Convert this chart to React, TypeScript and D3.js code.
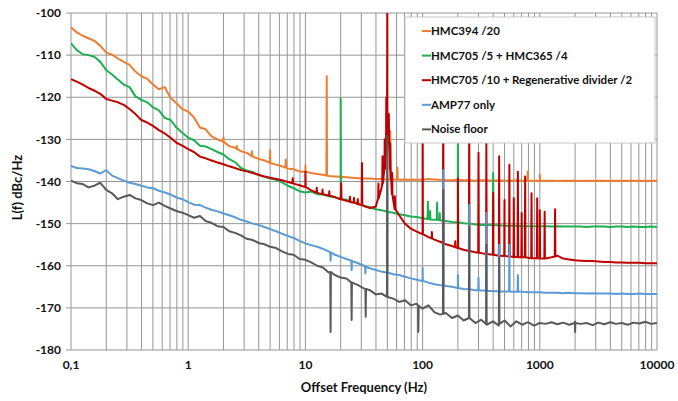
import React from 'react';
import * as d3 from 'd3';

// frequency grid: 20 points per decade, 0.1 Hz .. 10 kHz
const mantissas = [1, 1.12, 1.26, 1.41, 1.58, 1.78, 2, 2.24, 2.51, 2.82, 3.16, 3.55, 3.98, 4.47, 5.01, 5.62, 6.31, 7.08, 7.94, 8.91];
const decades = [0.1, 1, 10, 100, 1000];
const freqs = decades.flatMap(d => mantissas.map(m => +(d * m).toPrecision(3))).concat([10000]);

const xTicks = [0.1, 1, 10, 100, 1000, 10000];
const xTickLabels = ['0,1', '1', '10', '100', '1000', '10000'];
const yTicks = [-100, -110, -120, -130, -140, -150, -160, -170, -180];

// L(f) values in dBc/Hz on the grid above
const hmc394 = [
  -103.4, -104.6, -105.4, -106.0, -106.6, -107.8, -109.4, -109.9, -110.8, -111.6, -112.3, -113.9, -115.0, -115.6, -117.0, -118.1, -117.6, -120.2, -121.4, -122.8,
  -123.4, -124.8, -127.2, -127.6, -129.3, -130.0, -130.4, -131.6, -132.0, -132.8, -133.2, -134.1, -134.6, -135.0, -135.6, -136.0, -136.4, -136.9, -137.1, -137.6,
  -137.7, -138.0, -138.2, -138.4, -138.7, -138.8, -138.9, -139.0, -139.1, -139.2, -139.3, -139.3, -139.4, -139.4, -139.5, -139.5, -139.6, -139.5, -139.6, -139.6,
  -139.6, -139.4, -139.5, -139.6, -139.7, -139.7, -139.6, -139.7, -139.7, -139.8, -139.7, -139.7, -139.8, -139.7, -139.8, -139.8, -139.7, -139.8, -139.8, -139.8,
  -139.8, -139.8, -139.8, -139.9, -139.8, -139.8, -139.8, -139.9, -139.8, -139.8, -139.8, -139.8, -139.9, -139.8, -139.8, -139.8, -139.8, -139.8, -139.9, -139.8, -139.8,
];
const hmc705x5 = [
  -107.2, -108.8, -109.8, -110.0, -110.4, -111.6, -113.6, -114.6, -115.8, -117.0, -117.6, -119.8, -120.6, -121.2, -122.4, -123.1, -124.9, -125.4, -127.2, -128.4,
  -129.6, -130.2, -131.5, -131.7, -132.3, -133.0, -133.6, -134.7, -135.4, -136.8, -137.4, -137.8, -138.4, -138.9, -139.3, -139.6, -140.2, -141.0, -141.6, -142.3,
  -142.6, -142.4, -143.0, -143.1, -143.5, -143.7, -144.2, -144.3, -144.9, -145.3, -145.8, -146.1, -146.6, -146.8, -147.2, -147.4, -147.8, -148.0, -148.3, -148.4,
  -148.7, -148.9, -149.1, -149.2, -149.4, -149.6, -149.7, -149.9, -150.0, -150.2, -150.3, -150.3, -150.4, -150.4, -150.5, -150.5, -150.5, -150.6, -150.6, -150.6,
  -150.6, -150.6, -150.7, -150.6, -150.7, -150.7, -150.7, -150.7, -150.8, -150.7, -150.7, -150.7, -150.8, -150.7, -150.7, -150.8, -150.7, -150.8, -150.8, -150.7, -150.8,
];
const hmc705x10 = [
  -115.7, -116.3, -117.0, -117.8, -118.4, -119.2, -120.4, -120.8, -121.2, -121.8, -122.8, -124.0, -125.4, -126.0, -126.8, -127.8, -128.6, -129.6, -130.8, -131.5,
  -132.3, -133.0, -134.1, -134.5, -135.0, -135.5, -135.9, -136.4, -136.8, -137.3, -137.6, -138.0, -138.4, -138.8, -139.1, -139.4, -139.7, -140.1, -140.5, -140.9,
  -141.3, -142.1, -142.7, -143.0, -143.3, -143.7, -144.2, -144.6, -145.0, -145.4, -145.8, -146.3, -146.0, -141.5, -128.0, -144.5, -148.0, -150.0, -151.2, -151.9,
  -152.5, -153.2, -153.8, -154.3, -154.9, -155.3, -155.8, -156.2, -156.5, -156.8, -157.0, -157.2, -157.4, -157.6, -157.7, -157.8, -157.9, -158.0, -158.1, -158.2,
  -158.3, -158.3, -158.0, -157.6, -158.3, -158.5, -158.7, -158.8, -158.9, -158.9, -159.0, -159.1, -159.1, -159.2, -159.2, -159.3, -159.3, -159.3, -159.4, -159.4, -159.4,
];
const amp77 = [
  -136.3, -136.8, -136.9, -137.1, -137.5, -138.1, -137.3, -138.6, -139.2, -139.8, -140.3, -140.6, -141.0, -141.4, -141.6, -142.2, -142.6, -143.1, -143.8, -144.2,
  -144.9, -145.5, -145.6, -146.2, -146.7, -147.1, -147.6, -148.0, -148.5, -149.1, -149.5, -150.0, -150.3, -150.8, -151.3, -151.8, -152.4, -152.9, -153.4, -154.1,
  -154.7, -155.1, -155.5, -156.0, -156.6, -157.4, -157.9, -158.4, -158.9, -159.4, -160.0, -160.6, -161.0, -161.4, -161.6, -162.0, -162.2, -162.6, -163.0, -163.3,
  -163.6, -164.0, -164.4, -164.6, -164.8, -165.0, -165.3, -165.5, -165.6, -165.8, -165.9, -166.0, -166.0, -166.1, -166.1, -166.2, -166.2, -166.2, -166.3, -166.3,
  -166.3, -166.4, -166.4, -166.4, -166.5, -166.4, -166.5, -166.5, -166.6, -166.5, -166.6, -166.6, -166.6, -166.7, -166.6, -166.7, -166.7, -166.6, -166.7, -166.7, -166.7,
];
const noiseFloor = [
  -139.8, -140.4, -140.6, -141.4, -141.0, -140.3, -142.0, -142.8, -144.2, -143.6, -143.2, -144.0, -144.4, -145.2, -145.6, -145.0, -145.8, -146.4, -147.0, -147.4,
  -148.0, -148.6, -148.2, -149.4, -149.8, -150.6, -150.8, -151.8, -152.2, -152.8, -153.6, -153.9, -154.6, -154.9, -155.5, -155.8, -156.6, -157.2, -157.4, -158.4,
  -158.6, -159.2, -160.0, -160.4, -161.6, -162.2, -162.8, -163.0, -164.0, -164.6, -165.4, -165.8, -166.8, -166.6, -167.4, -167.8, -168.6, -168.2, -169.4, -169.0,
  -170.2, -169.4, -171.0, -171.6, -171.2, -172.4, -171.8, -173.0, -172.4, -173.6, -172.8, -174.0, -173.2, -174.2, -173.0, -174.4, -173.2, -174.0, -173.4, -174.2,
  -173.6, -173.8, -173.4, -173.9, -173.5, -174.0, -173.3, -173.8, -173.6, -174.1, -173.5, -173.9, -173.4, -173.8, -173.6, -174.0, -173.5, -173.7, -173.3, -173.8, -173.6,
];

// spurs: [frequency, floor level, peak level]
const hmc394Spurs = [[2.0, -130.6, -129.5], [2.6, -132.3, -131.6], [3.5, -134.0, -132.8], [5.0, -135.6, -132.6], [6.8, -136.7, -134.8], [10, -137.7, -136.2], [15.2, -138.6, -115.0], [53, -139.5, -128.0], [61, -139.5, -136.7], [790, -139.8, -137.6], [1000, -139.8, -138.4]];
const hmc705x5Spurs = [[20, -144.2, -120.3], [111, -148.9, -144.8], [116, -149.0, -147.0], [133, -149.1, -145.0], [140, -149.2, -147.5], [200, -149.7, -125.0], [400, -150.4, -138.0]];
const hmc705x10Spurs = [
  [7.8, -140.4, -139.2], [10, -141.3, -137.7], [12.5, -142.6, -141.5], [14, -143.0, -141.9], [16, -143.4, -142.3], [20.2, -144.2, -140.4],
  [24, -144.8, -143.6], [26, -145.0, -143.9], [28, -145.3, -144.2], [30.4, -145.6, -135.6], [42, -144.0, -140.5], [45.5, -140.5, -134.0],
  [47.5, -137.0, -130.0], [49, -132.0, -120.0], [50, -128.0, -95.0], [51.5, -131.0, -124.0], [53, -137.0, -131.0], [55, -143.0, -138.0],
  [58, -146.5, -143.5], [100, -152.5, -118.0], [120, -153.5, -152.0], [150, -154.6, -118.0], [190, -155.6, -154.2], [200, -155.8, -139.3],
  [250, -156.5, -120.0], [300, -156.9, -133.2], [350, -157.2, -130.9], [400, -157.4, -142.7], [450, -157.6, -134.0], [500, -157.7, -144.4],
  [550, -157.8, -136.0], [600, -157.9, -144.0], [650, -158.0, -137.7], [700, -158.0, -147.5], [750, -158.0, -138.8], [850, -158.2, -142.8],
  [950, -158.2, -144.0], [1000, -158.3, -146.8], [1100, -158.3, -147.2], [1350, -157.8, -146.6],
];
const amp77Spurs = [[16.4, -156.8, -158.8], [24.8, -158.8, -161.0], [32.5, -160.2, -161.8], [50, -161.6, -135.0], [100, -163.6, -160.5], [150, -164.7, -137.3], [200, -165.3, -162.2], [250, -165.6, -145.6], [300, -165.8, -162.8], [350, -165.9, -147.5], [450, -166.1, -155.0], [550, -166.1, -155.0], [650, -166.2, -162.2]];
const noiseFloorSpurs = [[16.4, -161.5, -175.7], [24.8, -164.0, -172.9], [32.7, -165.5, -172.1], [50, -167.4, -129.2], [92, -169.5, -175.7], [150, -171.4, -142.0], [250, -172.4, -150.7], [350, -173.8, -155.0], [450, -173.8, -158.0], [2000, -173.6, -175.7]];

const seriesNames = ['HMC394 /20', 'HMC705 /5 + HMC365 /4', 'HMC705 /10 + Regenerative divider /2', 'AMP77 only', 'Noise floor'];
const seriesColors = ['#ED7D31', '#1DB050', '#C00000', '#5B9BD5', '#595959'];
const seriesValues = [hmc394, hmc705x5, hmc705x10, amp77, noiseFloor];
const seriesSpurs = [hmc394Spurs, hmc705x5Spurs, hmc705x10Spurs, amp77Spurs, noiseFloorSpurs];

const W = 678;
const H = 401;
const margin = { left: 71, right: 21, top: 13, bottom: 51 };
const font = "Lato, 'Open Sans', sans-serif";

export default function App() {
  const x = d3.scaleLog().domain([0.1, 10000]).range([margin.left, W - margin.right]);
  const y = d3.scaleLinear().domain([-180, -100]).range([H - margin.bottom, margin.top]);

  const gridFreqs = decades.flatMap(d => d3.range(1, 10).map(m => d * m)).concat([10000]);

  const line = d3.line<[number, number]>().x(d => x(d[0])).y(d => y(d[1]));

  const buildPoints = (vals: number[], spurs: number[][]) => {
    const pts: [number, number][] = freqs.map((f, i) => [f, vals[i]]);
    spurs.forEach(([f, base, top]) => {
      pts.push([f * 0.994, base], [f, top], [f * 1.006, base]);
    });
    return pts.sort((a, b) => a[0] - b[0]);
  };

  const legendX = 405;
  const legendY = 17;

  return (
    <svg width={W} height={H} style={{ position: 'absolute', left: 0, top: 0, background: '#fff' }} fontFamily={font}>
      <defs>
        <clipPath id="plot-clip">
          <rect x={margin.left} y={margin.top} width={W - margin.left - margin.right} height={H - margin.top - margin.bottom} />
        </clipPath>
      </defs>

      {/* grid */}
      {gridFreqs.map(f => (
        <line key={'v' + f} x1={x(f)} x2={x(f)} y1={y(-100)} y2={y(-180)} stroke="#959595" strokeWidth={1} />
      ))}
      {yTicks.map(t => (
        <line key={'h' + t} x1={x(0.1) - 5} x2={x(10000)} y1={y(t)} y2={y(t)} stroke="#959595" strokeWidth={1} />
      ))}

      {/* series */}
      <g clipPath="url(#plot-clip)">
        {seriesValues.map((vals, i) => (
          <path key={seriesNames[i]} d={line(buildPoints(vals, seriesSpurs[i])) || ''} fill="none" stroke={seriesColors[i]} strokeWidth={2} strokeLinejoin="round" />
        ))}
      </g>

      {/* axes labels */}
      {yTicks.map(t => (
        <text key={'yl' + t} x={61} y={y(t)} dy="0.35em" textAnchor="end" fontSize={12} fontWeight="bold" fill="#111">{t}</text>
      ))}
      {xTicks.map((t, i) => (
        <text key={'xl' + t} x={x(t)} y={365} dy="0.35em" textAnchor="middle" fontSize={12} fontWeight="bold" fill="#111">{xTickLabels[i]}</text>
      ))}
      <text x={(x(0.1) + x(10000)) / 2} y={387} dy="0.35em" textAnchor="middle" fontSize={13} fontWeight="bold" fill="#111">Offset Frequency (Hz)</text>
      <text transform={`translate(17, ${(y(-100) + y(-180)) / 2 + 6}) rotate(-90)`} dy="0.35em" textAnchor="middle" fontSize={13} fontWeight="bold" fill="#111">L(f) dBc/Hz</text>

      {/* legend */}
      <rect x={legendX} y={legendY} width={250} height={126} fill="#fff" stroke="#c8c8c8" />
      {seriesNames.map((name, i) => (
        <g key={'lg' + name} transform={`translate(${legendX}, ${legendY + 14 + i * 24.6})`}>
          <line x1={17} x2={26} y1={0} y2={0} stroke={seriesColors[i]} strokeWidth={2} />
          <text x={26} y={0} dy="0.35em" fontSize={11.5} fontWeight="bold" fill="#111">{name}</text>
        </g>
      ))}
    </svg>
  );
}
